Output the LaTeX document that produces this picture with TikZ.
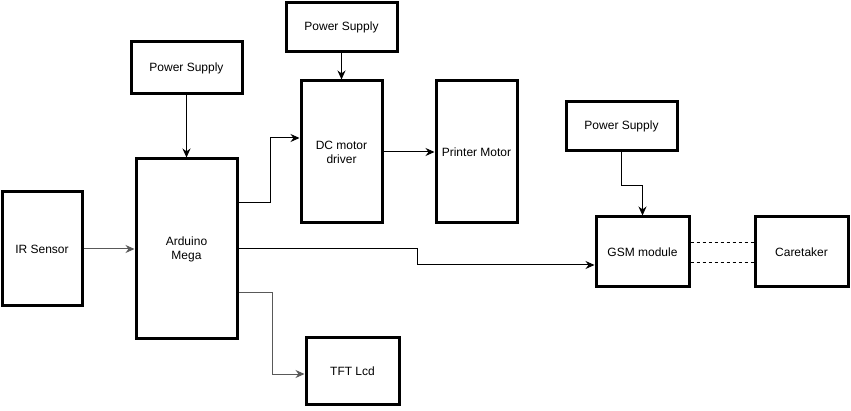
\documentclass[tikz,border=0pt]{standalone}
\usepackage{fontspec}
\setmainfont{Liberation Sans}
\usetikzlibrary{arrows.meta}

\begin{document}
\begin{tikzpicture}[x=1pt, y=-1pt, font=\fontsize{12}{14}\selectfont,
  blk/.style={draw, line width=3pt, align=center, inner sep=0pt},
  conn/.style={line width=1pt, -{Stealth[length=9pt,width=8pt]}},
  greyconn/.style={conn, draw=black!65}]
  \useasboundingbox (0,0) rectangle (851,411);
  % blocks, centres and sizes taken off the layout
  \node[blk, minimum width=80pt, minimum height=114pt] (ir) at (42,249) {IR Sensor};
  \node[blk, minimum width=101pt, minimum height=180pt] (ard) at (186.5,249) {Arduino\\Mega};
  \node[blk, minimum width=111pt, minimum height=52pt] (psa) at (186.5,68) {Power Supply};
  \node[blk, minimum width=111pt, minimum height=49pt] (psb) at (341.5,27.5) {Power Supply};
  \node[blk, minimum width=81pt, minimum height=142pt] (dc) at (341.5,152) {DC motor\\driver};
  \node[blk, minimum width=81pt, minimum height=142pt] (pm) at (476.5,152) {Printer Motor};
  \node[blk, minimum width=111pt, minimum height=49pt] (psc) at (621.5,126.5) {Power Supply};
  \node[blk, minimum width=93pt, minimum height=70pt] (gsm) at (642.5,252) {GSM module};
  \node[blk, minimum width=93pt, minimum height=70pt] (care) at (801.5,252) {Caretaker};
  \node[blk, minimum width=93pt, minimum height=66pt] (tft) at (352.5,371) {TFT Lcd};

  % links
  \draw[greyconn] (ir) -- (ard);
  \draw[conn] (psa) -- (ard);
  \draw[conn] (psb) -- (dc);
  \draw[conn] (dc) -- (pm);
  \draw[conn] ([yshift=46pt]ard.east) -- ++(32,0) |- ([yshift=14pt]dc.west);
  \draw[conn] (ard.east) -- ++(179,0) |- ([yshift=-13pt]gsm.west);
  \draw[conn] (psc.south) -- ++(0,33) -| (gsm.north);
  \draw[greyconn] ([yshift=-44pt]ard.east) -- ++(34,0) |- ([yshift=-3pt]tft.west);
  \draw[dashed, line width=0.8pt] ([yshift=10pt]gsm.east) -- ([yshift=10pt]care.west);
  \draw[dashed, line width=0.8pt] ([yshift=-10pt]gsm.east) -- ([yshift=-10pt]care.west);
\end{tikzpicture}
\end{document}
